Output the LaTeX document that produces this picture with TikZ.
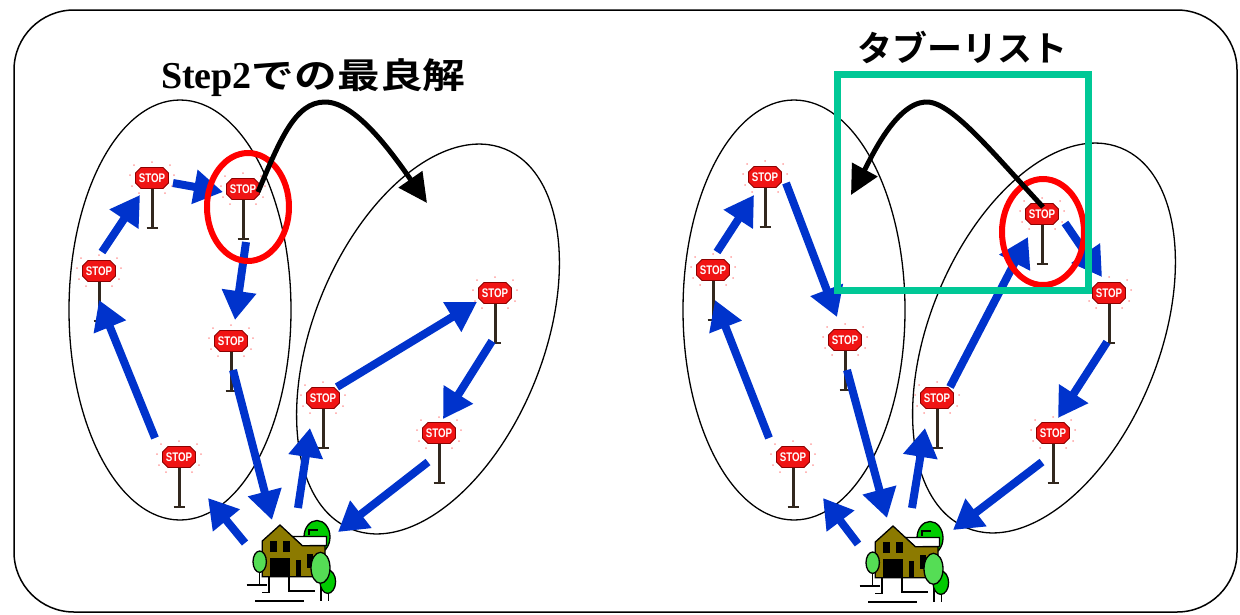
\documentclass[tikz,border=0pt]{standalone}
\usepackage{fontspec}
\usepackage{graphicx}
\setmainfont{Liberation Serif}
\newfontfamily\jpfont{Noto Sans CJK JP}[BoldFont={Noto Sans CJK JP Bold}]
\newfontfamily\signfont{Liberation Sans}
\usetikzlibrary{arrows.meta,calc}

\definecolor{routeblue}{RGB}{0,51,204}
\definecolor{tabugreen}{RGB}{0,200,150}
\definecolor{olivehouse}{RGB}{140,122,0}
\definecolor{lightleaf}{RGB}{85,221,85}
\definecolor{darkleaf}{RGB}{0,204,0}
\definecolor{signred}{RGB}{240,20,20}
\definecolor{poledark}{RGB}{50,40,30}
\definecolor{glowpink}{RGB}{255,160,160}

\tikzset{
  route/.style={draw=routeblue, line width=8pt, -{Triangle[length=29pt,width=33pt]}},
  jump/.style={draw=black, line width=5pt, -{Triangle[length=29pt,width=28pt]}},
  cluster/.style={draw=black, line width=1.3pt},
  pick/.style={draw=red, line width=6pt},
  tabubox/.style={draw=tabugreen, line width=7pt},
  outerframe/.style={draw=black, line width=1.5pt, rounded corners=60pt},
  outline/.style={draw=black, line width=1.3pt},
  % a stop sign: octagonal plate centred on the origin, pole below
  stopsign/.pic={
    \foreach \a/\b in {0/-16,-18/-13,18/-13,-22/-3,22/-3,-20/8,20/8,-13/15,13/15}
      \fill[glowpink] (\a,\b) circle (1);
    \draw[poledark, line width=3pt] (0,10) -- (0,50);
    \draw[poledark, line width=2pt] (-5.5,50) -- (5.5,50);
    \filldraw[fill=signred, draw=red!55!black, line width=0.9pt]
      (-11,-10.5) -- (11,-10.5) -- (16.5,-5) -- (16.5,5) -- (11,10.5)
      -- (-11,10.5) -- (-16.5,5) -- (-16.5,-5) -- cycle;
    \node[text=white, inner sep=0pt] at (0,0.5)
      {\signfont\bfseries\fontsize{12.5}{12.5}\selectfont\scalebox{0.78}[1]{STOP}};
  },
  % the depot: a house with trees, origin at the roof peak
  cottage/.pic={
    \filldraw[fill=darkleaf, outline] (37,12) ellipse [x radius=13pt, y radius=16.5pt];
    \draw[line width=1.6pt] (29,10) -- (29,5) -- (37.7,5);
    \filldraw[fill=white, outline] (12,11.5) -- (46.5,11.5) -- (46.5,20.5) -- (22.3,20.7) -- cycle;
    \filldraw[fill=olivehouse, outline] (-17.7,16) -- (0,0) -- (22.3,20.7) -- (45,20.7)
      -- (45,51.7) -- (-17.7,51.7) -- cycle;
    \fill (-10,16) rectangle (-3.3,26.7);
    \fill (3.3,16) rectangle (10,26.7);
    \fill (-10,33.3) rectangle (10,51.7);
    \fill (15.7,35) rectangle (20.7,51.7);
    \fill (26.7,29.3) rectangle (33.3,43.3);
    \draw[line width=1.3pt] (-20.3,47) -- (-20.3,60) (-33.3,60) -- (-13.3,60);
    \filldraw[fill=lightleaf, outline] (-20.3,36.7) ellipse [x radius=6.7pt, y radius=10.7pt];
    \draw[line width=1.3pt] (-11,51.7) -- (-11,67.3) -- (-18.3,67.3);
    \draw[line width=1.3pt] (9,51.7) -- (9,66) -- (35,66);
    \draw[line width=2.5pt] (-25,76) -- (24.3,76);
    \draw[line width=1.3pt] (41,58) -- (41,76) (48.3,67) -- (48.3,76);
    \filldraw[fill=darkleaf, outline] (47.8,56.7) ellipse [x radius=7.8pt, y radius=11.7pt];
    \filldraw[fill=lightleaf, outline] (40.5,42.8) ellipse [x radius=9.5pt, y radius=15.5pt];
  },
}

\begin{document}
\begin{tikzpicture}[x=1pt,y=-1pt]
\useasboundingbox (0,0) rectangle (1240,614);

% frame
\draw[outerframe] (14,10) rectangle (1237,612);

% clusters
\draw[cluster] (180,310) ellipse [x radius=111pt, y radius=210pt];
\draw[cluster, rotate around={-22:(428,339)}] (428,339) ellipse [x radius=115pt, y radius=205pt];
\draw[cluster] (794,310) ellipse [x radius=111pt, y radius=210pt];
\draw[cluster, rotate around={-22:(1044,338)}] (1044,338) ellipse [x radius=115pt, y radius=205pt];

% titles
\node[anchor=base west, inner sep=0pt] (title) at (161,88)
  {{\fontsize{38}{40}\selectfont\bfseries Step2}\scalebox{1.22}[1]{\jpfont\bfseries\fontsize{35}{40}\selectfont での最良解}};
\node[inner sep=0pt] (tabulabel) at (962,47) {\jpfont\bfseries\fontsize{35}{40}\selectfont タブーリスト};

% left panel: customers and depot
\coordinate (L1) at (152,178);
\coordinate (L2) at (243,189);
\coordinate (L3) at (99,271);
\coordinate (L4) at (231,341);
\coordinate (L5) at (179,457);
\coordinate (L6) at (323,398);
\coordinate (L7) at (495,293);
\coordinate (L8) at (439,433);
\coordinate (HL) at (280,525);
\foreach \s in {L1,L2,L3,L4,L5,L6,L7,L8} \pic at (\s) {stopsign};
\pic at (HL) {cottage};

% right panel: customers and depot
\coordinate (R1) at (765,177);
\coordinate (R2) at (1042,214);
\coordinate (R3) at (713,270);
\coordinate (R4) at (845,340);
\coordinate (R5) at (793,457);
\coordinate (R6) at (937,398);
\coordinate (R7) at (1109,293);
\coordinate (R8) at (1053,433);
\coordinate (HR) at (893,526);
\foreach \s in {R1,R2,R3,R4,R5,R6,R7,R8} \pic at (\s) {stopsign};
\pic at (HR) {cottage};

% left routes
\draw[route] ($(L5)+(-24,-19)$) -- ($(L3)+(0,29)$);
\draw[route] ($(L3)+(3,-19)$) -- ($(L1)+(-12,17)$);
\draw[route] ($(L1)+(21,5)$) -- ($(L2)+(-20,3)$);
\draw[route] ($(L2)+(3,53)$) -- ($(L4)+(4,-21)$);
\draw[route] ($(L4)+(2,29)$) -- ($(HL)+(-8,-5)$);
\draw[route] ($(HL)+(-35,18)$) -- ($(L5)+(29,41)$);
\draw[route] ($(HL)+(18,-17)$) -- ($(L6)+(-13,30)$);
\draw[route] ($(L6)+(14,-11)$) -- ($(L7)+(-18,9)$);
\draw[route] ($(L7)+(-3,48)$) -- ($(L8)+(4,-14)$);
\draw[route] ($(L8)+(-11,29)$) -- ($(HL)+(58,7)$);

% right routes
\draw[route] ($(R5)+(-24,-19)$) -- ($(R3)+(2,30)$);
\draw[route] ($(R3)+(4,-18)$) -- ($(R1)+(-11,18)$);
\draw[route] ($(R1)+(21,6)$) -- ($(R4)+(-8,-23)$);
\draw[route] ($(R4)+(2,30)$) -- ($(HR)+(-6,-8)$);
\draw[route] ($(HR)+(-35,18)$) -- ($(R5)+(30,41)$);
\draw[route] ($(HR)+(19,-18)$) -- ($(R6)+(-12,30)$);
\draw[route] ($(R6)+(13,-11)$) -- ($(R2)+(-14,23)$);
\draw[route] ($(R2)+(23,9)$) -- ($(R7)+(-7,-16)$);
\draw[route] ($(R7)+(-2,49)$) -- ($(R8)+(5,-15)$);
\draw[route] ($(R8)+(-11,29)$) -- ($(HR)+(60,4)$);

% highlighted customers
\draw[pick] (248,207) ellipse [x radius=41pt, y radius=54pt];
\draw[pick] (1043,232) ellipse [x radius=41pt, y radius=53pt];

% tabu list box
\draw[tabubox] (837,74) rectangle (1088,290);

% moves between clusters
\coordinate (jumpL) at (427,203);
\coordinate (jumpR) at (851,195);
\draw[jump] ($(L2)+(15,3)$) .. controls (280,140) and (295,102) .. (325,102)
  .. controls (355,102) and (390,150) .. (jumpL);
\draw[jump] ($(R2)+(1,-7)$) .. controls (990,150) and (950,100) .. (925,102)
  .. controls (895,104) and (870,160) .. (jumpR);
\end{tikzpicture}
\end{document}
